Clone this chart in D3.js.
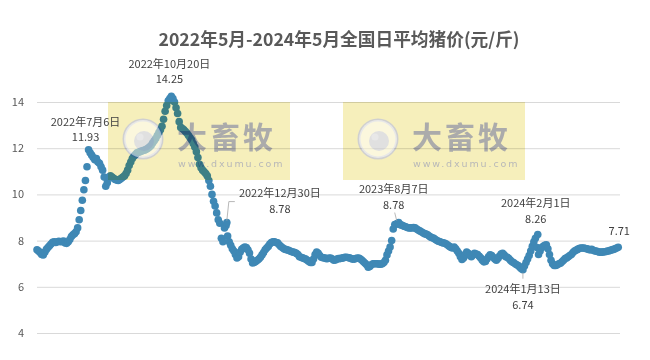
<!DOCTYPE html>
<html><head><meta charset="utf-8">
<script src="https://cdn.jsdelivr.net/npm/d3@7"></script>
<style>body{margin:0;background:#fff} svg{display:block}</style>
</head><body><svg id="c" width="650" height="360"></svg>
<script>
// ---------- data ----------
const title = "2022年5月-2024年5月全国日平均猪价(元/斤)";
const startDate = "2022-05-01";
const endDate = "2024-05-15";
const stepDays = 2;
const prices = [
 7.60,7.55,7.48,7.40,7.38,7.50,7.62,7.70,7.78,7.85,
 7.93,7.95,7.92,7.95,7.97,7.95,7.96,7.98,7.90,7.88,
 7.95,8.05,8.18,8.25,8.30,8.38,8.55,8.90,9.30,9.75,
 10.20,10.60,11.20,11.93,11.80,11.70,11.60,11.50,11.55,11.40,
 11.35,11.20,11.05,10.75,10.35,10.50,10.75,10.80,10.75,10.70,
 10.65,10.62,10.60,10.65,10.70,10.75,10.80,10.90,11.05,11.25,
 11.40,11.55,11.65,11.72,11.80,11.82,11.85,11.88,11.90,11.92,
 11.95,12.00,12.05,12.12,12.22,12.32,12.42,12.55,12.68,12.80,
 12.95,13.25,13.60,13.85,14.05,14.15,14.25,14.15,14.00,13.75,
 13.50,13.15,12.90,12.85,12.80,12.72,12.65,12.55,12.45,12.35,
 12.20,12.05,11.85,11.60,11.30,11.15,11.05,10.98,10.90,10.80,
 10.60,10.35,10.00,9.70,9.50,9.20,8.90,8.75,8.10,7.95,
 8.55,8.65,8.20,7.95,7.80,7.65,7.55,7.40,7.25,7.30,
 7.50,7.62,7.68,7.72,7.70,7.60,7.46,7.20,7.03,7.05,
 7.10,7.15,7.20,7.28,7.38,7.48,7.60,7.68,7.75,7.85,
 7.92,7.95,7.95,7.92,7.90,7.82,7.75,7.70,7.65,7.62,
 7.60,7.58,7.55,7.52,7.50,7.48,7.45,7.40,7.30,7.28,
 7.25,7.22,7.20,7.15,7.10,7.05,7.05,7.20,7.40,7.50,
 7.45,7.35,7.28,7.26,7.25,7.22,7.22,7.24,7.24,7.20,
 7.15,7.16,7.20,7.22,7.22,7.24,7.25,7.28,7.28,7.27,
 7.25,7.22,7.20,7.20,7.22,7.24,7.24,7.20,7.15,7.08,
 7.02,6.95,6.85,6.88,6.95,7.00,7.00,7.00,7.00,6.98,
 6.98,7.00,7.05,7.15,7.38,7.55,7.72,8.00,8.50,8.70,
 8.72,8.75,8.70,8.68,8.65,8.62,8.60,8.57,8.55,8.55,
 8.55,8.57,8.55,8.50,8.46,8.42,8.38,8.34,8.30,8.28,
 8.25,8.20,8.15,8.12,8.10,8.05,8.00,7.97,7.95,7.92,
 7.90,7.88,7.85,7.80,7.75,7.70,7.68,7.72,7.65,7.55,
 7.45,7.30,7.18,7.25,7.40,7.50,7.45,7.35,7.30,7.38,
 7.45,7.42,7.40,7.32,7.25,7.15,7.08,7.10,7.20,7.30,
 7.38,7.35,7.28,7.20,7.15,7.22,7.32,7.42,7.45,7.38,
 7.30,7.28,7.22,7.15,7.08,7.05,7.00,6.95,6.92,6.85,
 6.78,6.74,6.90,7.05,7.20,7.35,7.55,7.75,7.95,8.10,
 7.70,7.40,7.55,7.70,7.75,7.80,7.82,7.65,7.40,7.15,
 7.00,6.92,6.92,6.95,7.00,7.02,7.08,7.15,7.22,7.25,
 7.30,7.35,7.40,7.48,7.55,7.58,7.62,7.66,7.68,7.68,
 7.68,7.66,7.65,7.62,7.60,7.62,7.58,7.55,7.55,7.52,
 7.50,7.50,7.50,7.52,7.52,7.55,7.55,7.58,7.60,7.62,
 7.65,7.68,7.71
];
const annotDates  = ["2022-07-06","2022-10-20","2022-12-30","2023-08-07","2024-01-13","2024-02-01"];
const annotValues = [11.93, 14.25, 8.78, 8.78, 6.74, 8.26];
const annotLabels = ["2022年7月6日","2022年10月20日","2022年12月30日","2023年8月7日","2024年1月13日","2024年2月1日"];
const yTicks = [4,6,8,10,12,14];

// ---------- layout ----------
const W = 650, H = 360;
const plot = {left: 37, right: 620, top: 102, bottom: 333};
const labelLayout = [
  {dx:-3, dy1:-24, dy2:-9},
  {dx:-2, dy1:-28, dy2:-13},
  {dx:53, dy1:-26, dy2:-10, leader:[[0,-2],[2,-21],[8,-21]]},
  {dx:-5, dy1:-30, dy2:-14, leader:[[-2,-2],[-4,-10]]},
  {dx:0,  dy1:23,  dy2:39,  leader:[[0,3],[0,9]]},
  {dx:-2, dy1:-28, dy2:-12}
];
const dotColor = "#3f88b5";
const font = "'Noto Sans CJK SC','Noto Sans',sans-serif";

const parse = d3.timeParse("%Y-%m-%d");
const fmt = d3.timeFormat("%Y-%m-%d");
const t0 = parse(startDate);
const series = prices.map((v,i)=>({date:d3.timeDay.offset(t0, i*stepDays), value:v}));
const have = new Set(series.map(d=>fmt(d.date)));
annotDates.forEach((d,i)=>{ if(!have.has(d)) series.push({date:parse(d), value:annotValues[i]}); });
series.sort((a,b)=>a.date-b.date);

const x = d3.scaleTime().domain([t0, parse(endDate)]).range([plot.left, 619]);
const y = d3.scaleLinear().domain([4,14]).range([plot.bottom, plot.top]);

const svg = d3.select("#c");
svg.append("rect").attr("width",W).attr("height",H).attr("fill","#fff");

// title
svg.append("text").attr("x",339).attr("y",46).attr("text-anchor","middle")
  .attr("font-family",font).attr("font-weight","bold").attr("font-size",17.7)
  .attr("fill","#595959").text(title);

// y axis (grid + labels)
const yAxis = d3.axisLeft(y).tickValues(yTicks).tickSize(-(plot.right-plot.left)).tickPadding(13);
const gy = svg.append("g").attr("transform",`translate(${plot.left},0)`).call(yAxis);
gy.select(".domain").remove();
gy.selectAll(".tick line").attr("stroke","#d9d9d9").attr("stroke-width",1);
gy.selectAll(".tick text").attr("font-family",font).attr("font-size",11).attr("fill","#595959");

// dots
svg.append("g").selectAll("circle").data(series).join("circle")
  .attr("cx",d=>x(d.date)).attr("cy",d=>y(d.value)).attr("r",3.8)
  .attr("fill",dotColor);

// watermarks
function watermark(x0,y0){
  const g = svg.append("g").attr("transform",`translate(${x0},${y0})`);
  const m = g.append("g").style("mix-blend-mode","multiply");
  m.append("rect").attr("width",182).attr("height",78).attr("fill","#f6efbb");
  m.append("text").attr("x",69).attr("y",46).attr("font-family",font).attr("font-weight","bold")
    .attr("font-size",30).attr("letter-spacing",3).attr("fill","#ababab").text("大畜牧");
  m.append("text").attr("x",70).attr("y",64.5).attr("font-family","'DejaVu Sans',sans-serif")
    .attr("font-size",9.5).attr("letter-spacing",1.9).attr("fill","#b8b8b8").text("www.dxumu.com");
  g.append("circle").attr("cx",35).attr("cy",37).attr("r",19).attr("fill","#fff").attr("fill-opacity",0.5);
  m.append("circle").attr("cx",35).attr("cy",37).attr("r",19).attr("fill","none").attr("stroke","#d0d0d0").attr("stroke-width",3);
  m.append("circle").attr("cx",36).attr("cy",39).attr("r",10).attr("fill","#c0c0c0");
  g.append("circle").attr("cx",32).attr("cy",35).attr("r",3.5).attr("fill","#e8e8e8");
}
watermark(108,102);
watermark(343,102);

// annotations
const ag = svg.append("g").attr("font-family",font).attr("font-size",11).attr("fill","#404040").attr("text-anchor","middle");
annotDates.forEach((d,i)=>{
  const px = x(parse(d)), py = y(annotValues[i]), L = labelLayout[i];
  if (L.leader) {
    ag.append("polyline").attr("points",L.leader.map(p=>[px+p[0],py+p[1]].join(",")).join(" "))
      .attr("fill","none").attr("stroke","#a6a6a6").attr("stroke-width",0.8);
  }
  ag.append("text").attr("x",px+L.dx).attr("y",py+L.dy1).text(annotLabels[i]);
  ag.append("text").attr("x",px+L.dx).attr("y",py+L.dy2).text(annotValues[i].toFixed(2));
});
const last = series[series.length-1];
ag.append("text").attr("x",x(last.date)+1).attr("y",y(last.value)-12).text(last.value.toFixed(2));
</script></body></html>
